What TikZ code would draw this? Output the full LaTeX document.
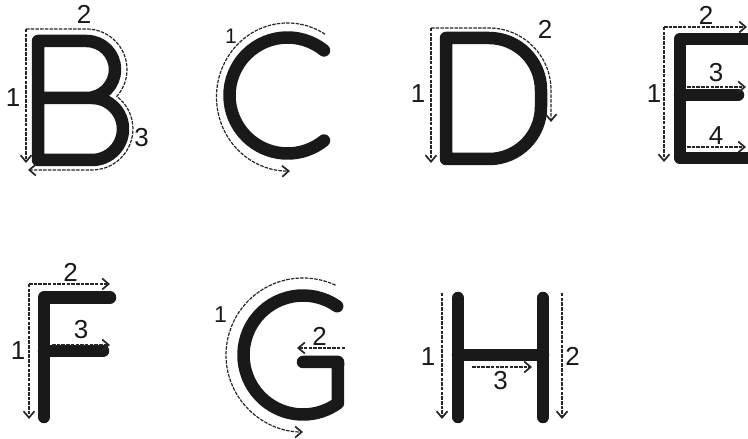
\documentclass[tikz,border=0pt]{standalone}
\usepackage{fontspec}
\setmainfont{Liberation Sans}
\usetikzlibrary{arrows.meta}

\begin{document}
\begin{tikzpicture}[
  x=1pt, y=1pt,
  letter/.style={
    draw=black!90,
    line width=12.5pt,
    line cap=round,
    line join=round
  },
  trace/.style={
    draw=black!85,
    line width=1.2pt,
    dash pattern=on 3.5pt off 1.2pt,
    -{Straight Barb[length=6.5pt,width=11pt,line width=1.7pt]}
  },
  num/.style={
    inner sep=0pt,
    text=black!90,
    font=\fontsize{26}{28}\selectfont
  }
]
\useasboundingbox (0,0) rectangle (748,439);
\clip (0,0) rectangle (748,439);

% -------- B --------
\draw[letter] (38,341) -- (92,341) arc[start angle=90,end angle=-90,radius=31]
  -- (38,279) -- (38,398) -- (86.5,398) arc[start angle=90,end angle=-90,radius=28.5] -- (38,341);
\draw[trace] (26,410) -- (26,276);
\draw[trace] (26,410) -- (86.5,410) arc[start angle=90,end angle=-41.6,radius=40.5]
  arc[start angle=52.7,end angle=-90,radius=41] -- (28,269);
\node[num] (bOne) at (13,341.5) {1};
\node[num] (bTwo) at (84,424.5) {2};
\node[num] (bThree) at (141.5,301.5) {3};

% -------- C --------
\draw[letter] (287.5,343.5) ++(51:58) arc[start angle=51,end angle=309,radius=58];
\draw[trace] (287.5,342) ++(58:71 and 74) arc[start angle=58,end angle=272,x radius=71,y radius=74];
\node[num,font=\fontsize{21}{23}\selectfont] (cOne) at (231,402.5) {1};

% -------- D --------
\draw[letter] (446,280) -- (446,401) -- (489,401) arc[start angle=90,end angle=0,radius=52]
  -- (541,332) arc[start angle=0,end angle=-90,radius=52] -- cycle;
\draw[trace] (431,411) -- (431,276);
\draw[trace] (431,411) -- (489,411) arc[start angle=90,end angle=0,radius=62] -- (551,317);
\node[num] (dOne) at (418,345) {1};
\node[num] (dTwo) at (545,409.5) {2};

% -------- E --------
\draw[letter] (770,400) -- (680,400) -- (680,281) -- (770,281);
\draw[letter] (680,344) -- (738,344);
\draw[trace] (664,412) -- (664,277);
\draw[trace] (664,412) -- (747,412);
\draw[trace] (687,352) -- (746,352);
\draw[trace] (687,292) -- (746,292);
\node[num] (eOne) at (654,345) {1};
\node[num] (eTwo) at (706,423.5) {2};
\node[num] (eThree) at (716,366.5) {3};
\node[num] (eFour) at (716,303) {4};

% -------- F --------
\draw[letter] (110,141.5) -- (44,141.5) -- (44,22);
\draw[letter] (44,88) -- (103,88);
\draw[trace] (29,155) -- (29,20);
\draw[trace] (29,155) -- (110,155);
\draw[trace] (52,94) -- (110,94);
\node[num] (fOne) at (18,88) {1};
\node[num] (fTwo) at (70.5,166.5) {2};
\node[num] (fThree) at (81,109) {3};

% -------- G --------
\draw[letter] (303,84) ++(55:59.5) arc[start angle=55,end angle=306,radius=59.5]
  -- (338,77) -- (303,77);
\draw[trace] (303,84) ++(65:77) arc[start angle=65,end angle=270,radius=77];
\draw[trace] (345,91) -- (297,91);
\node[num,font=\fontsize{23}{25}\selectfont] (gOne) at (220.5,124) {1};
\node[num] (gTwo) at (319.5,103) {2};

% -------- H --------
\draw[letter] (458,141) -- (458,22);
\draw[letter] (543,141) -- (543,22);
\draw[letter] (458,84) -- (543,84);
\draw[trace] (442,146) -- (442,20);
\draw[trace] (562,146) -- (562,20);
\draw[trace] (472,72) -- (532,72);
\node[num] (hOne) at (428,82.5) {1};
\node[num] (hTwo) at (572.5,82.5) {2};
\node[num] (hThree) at (500.5,58) {3};

\end{tikzpicture}
\end{document}
